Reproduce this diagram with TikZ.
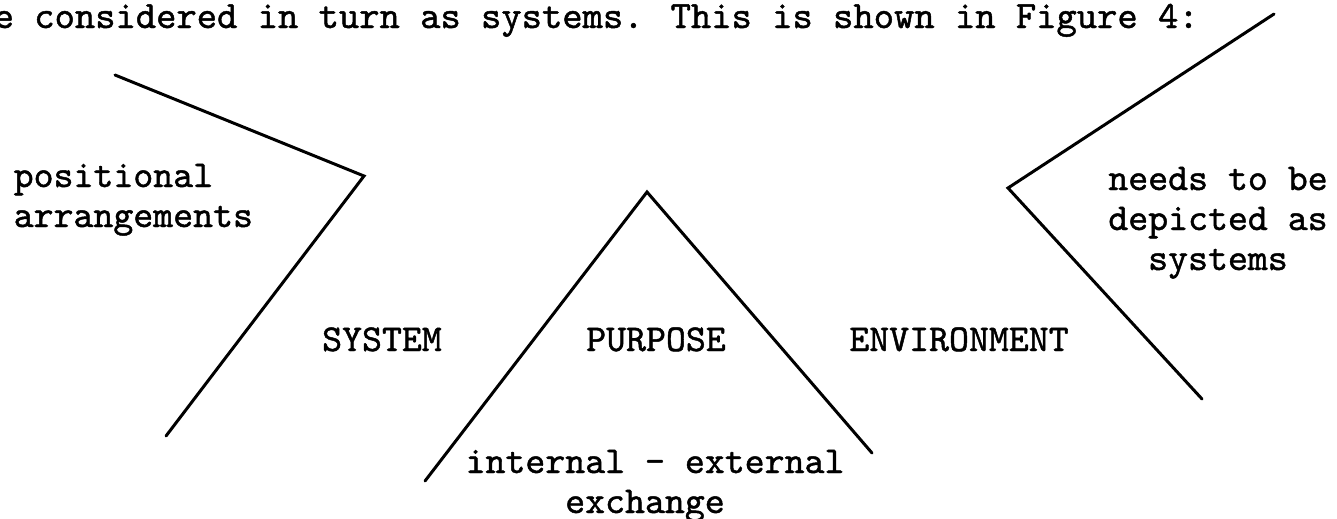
\documentclass[tikz,border=0pt]{standalone}
\usepackage{fontspec}
\usepackage{tikz}
\usetikzlibrary{positioning, calc}

% typewriter face, a little heavier than plain LM Mono
\newfontfamily\typew[FakeBold=1.2]{Latin Modern Mono}

\begin{document}
\begin{tikzpicture}[
  x=0.01cm, y=-0.01cm,
  edge/.style={black, line width=0.85pt, line cap=round, line join=miter},
  txt/.style={font=\typew\fontsize{10.8}{12}\selectfont, inner sep=0pt},
  bodytxt/.style={font=\typew\fontsize{11}{12}\selectfont, inner sep=0pt},
]

\useasboundingbox (0,0) rectangle (1337,518);

% =====================================================================
% running text above the figure
% =====================================================================
\node[bodytxt, anchor=base west] (intro) at (-7,28)
  {e considered in turn as systems. This is shown in Figure 4:};

% =====================================================================
% outline shapes (vertices in picture pixels)
% =====================================================================
\coordinate (sysTop)   at (115,75);
\coordinate (sysTip)   at (364,176);
\coordinate (sysFoot)  at (166,436);

\coordinate (purApex)  at (647,192);
\coordinate (purLeft)  at (425,481);
\coordinate (purRight) at (872,453);

\coordinate (envTop)   at (1274,14);
\coordinate (envTip)   at (1008,188);
\coordinate (envFoot)  at (1202,399);

\draw[edge] (sysTop) -- (sysTip) -- (sysFoot);
\draw[edge] (purLeft) -- (purApex) -- (purRight);
\draw[edge] (envTop) -- (envTip) -- (envFoot);

% =====================================================================
% labels
% =====================================================================
% left chevron
\node[txt, anchor=base west] (posA) at (13,187) {positional};
\node[txt, anchor=base west] (posB) at (13,227) {arrangements};

% middle row
\node[txt, anchor=base] (system)  at (382,351) {SYSTEM};
\node[txt, anchor=base] (purpose) at (656,351) {PURPOSE};
\node[txt, anchor=base] (environ) at (959,351) {ENVIRONMENT};

% under the triangle
\node[txt, anchor=base] (exchA) at (655,473) {internal - external};
\node[txt, anchor=base] (exchB) at (645,513) {exchange};

% right chevron
\node[txt, anchor=base] (needA) at (1218,190) {needs to be};
\node[txt, anchor=base] (needB) at (1218,230) {depicted as};
\node[txt, anchor=base] (needC) at (1218,270) {systems};

\end{tikzpicture}
\end{document}
